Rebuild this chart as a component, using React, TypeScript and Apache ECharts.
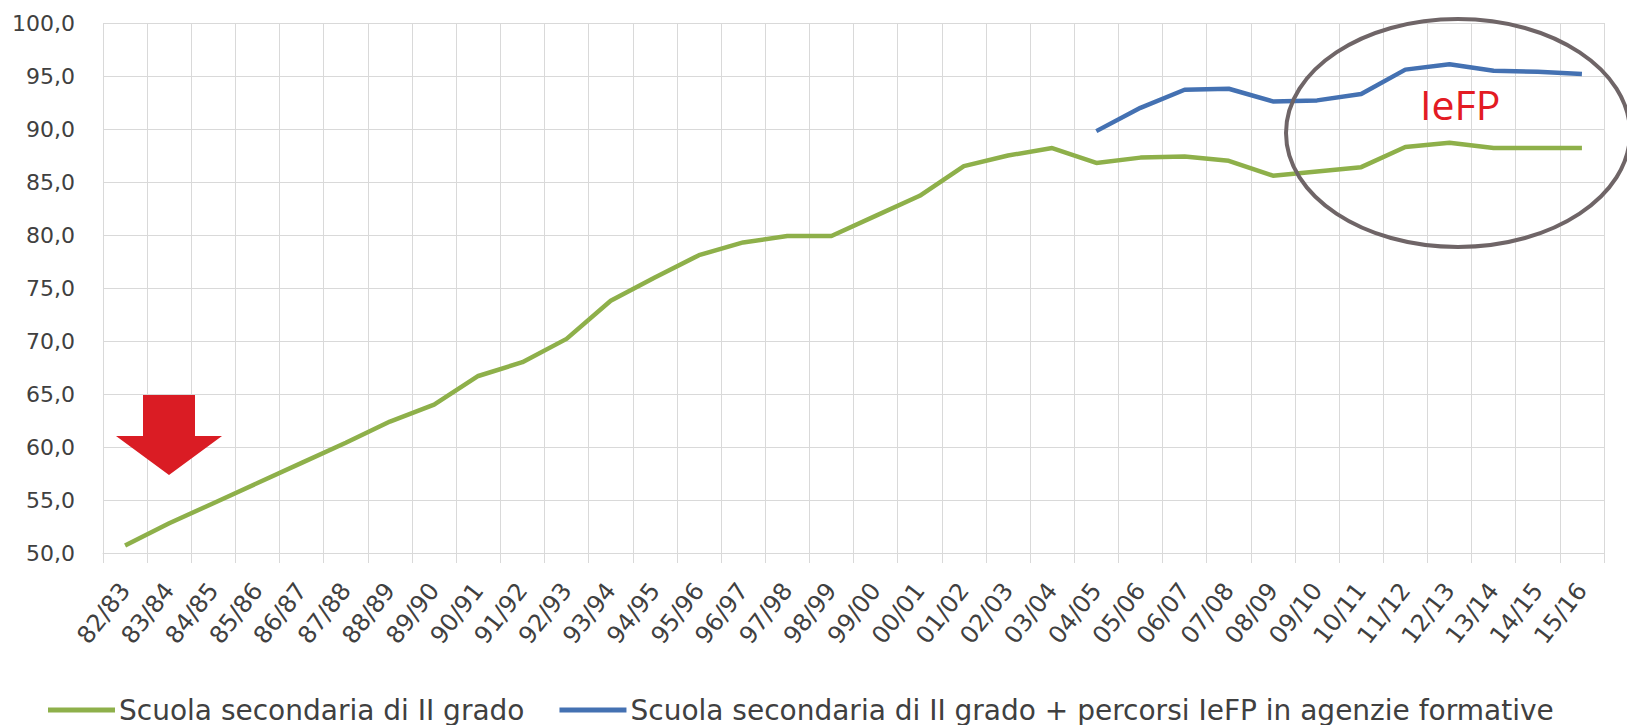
import React, { useEffect, useRef } from "react";
import * as echarts from "echarts";

const categories = [
  "82/83", "83/84", "84/85", "85/86", "86/87", "87/88", "88/89", "89/90", "90/91", "91/92",
  "92/93", "93/94", "94/95", "95/96", "96/97", "97/98", "98/99", "99/00", "00/01", "01/02",
  "02/03", "03/04", "04/05", "05/06", "06/07", "07/08", "08/09", "09/10", "10/11", "11/12",
  "12/13", "13/14", "14/15", "15/16",
];

const scuolaSecondaria = [
  50.7, 52.8, 54.7, 56.6, 58.5, 60.4, 62.4, 64.0, 66.7, 68.0,
  70.2, 73.8, 76.0, 78.1, 79.3, 79.9, 79.9, 81.8, 83.7, 86.5,
  87.5, 88.2, 86.8, 87.3, 87.4, 87.0, 85.6, 86.0, 86.4, 88.3,
  88.7, 88.2, 88.2, 88.2,
];

const conIeFP = [
  null, null, null, null, null, null, null, null, null, null,
  null, null, null, null, null, null, null, null, null, null,
  null, null, 89.8, 92.0, 93.7, 93.8, 92.6, 92.7, 93.3, 95.6,
  96.1, 95.5, 95.4, 95.2,
];

const seriesNames = [
  "Scuola secondaria di II grado",
  "Scuola secondaria di II grado + percorsi IeFP in agenzie formative",
];

const GREEN = "#8eb04a";
const BLUE = "#4471b2";
const GRID = "#d9d9d9";
const TEXT = "#404040";

export default function App() {
  const ref = useRef<HTMLDivElement>(null);

  useEffect(() => {
    if (!ref.current) return;
    const chart = echarts.init(ref.current, null, { renderer: "svg" });
    chart.setOption({
      animation: false,
      backgroundColor: "#ffffff",
      grid: { left: 103, right: 23, top: 23, bottom: 172, containLabel: false },
      legend: {
        left: 48,
        top: 696,
        padding: 0,
        itemGap: 35,
        itemWidth: 67,
        itemHeight: 5,
        icon: "rect",
        textStyle: {
          fontFamily: "DejaVu Sans",
          fontSize: 28,
          lineHeight: 28,
          color: TEXT,
          padding: [0, 0, 0, -1],
        },
        data: [
          { name: seriesNames[0], itemStyle: { color: GREEN } },
          { name: seriesNames[1], itemStyle: { color: BLUE } },
        ],
      },
      xAxis: {
        type: "category",
        data: categories,
        boundaryGap: true,
        axisLine: { show: true, lineStyle: { color: GRID, width: 1 } },
        axisTick: { show: true, length: 10, lineStyle: { color: GRID } },
        splitLine: { show: true, lineStyle: { color: GRID, width: 1 } },
        axisLabel: {
          interval: 0,
          rotate: 52,
          margin: 33,
          fontFamily: "DejaVu Sans",
          fontSize: 24,
          color: TEXT,
        },
      },
      yAxis: {
        type: "value",
        min: 50,
        max: 100,
        interval: 5,
        axisLine: { show: false },
        axisTick: { show: false },
        splitLine: { show: true, lineStyle: { color: GRID, width: 1 } },
        axisLabel: {
          margin: 28,
          fontFamily: "DejaVu Sans",
          fontSize: 22,
          color: TEXT,
          formatter: (v: number) => v.toFixed(1).replace(".", ","),
        },
      },
      series: [
        {
          name: seriesNames[0],
          type: "line",
          data: scuolaSecondaria,
          symbol: "none",
          lineStyle: { color: GREEN, width: 4.5 },
          itemStyle: { color: GREEN },
        },
        {
          name: seriesNames[1],
          type: "line",
          data: conIeFP,
          symbol: "none",
          connectNulls: false,
          lineStyle: { color: BLUE, width: 4.5 },
          itemStyle: { color: BLUE },
        },
      ],
      graphic: [
        {
          type: "polygon",
          shape: {
            points: [
              [143, 395], [195, 395], [195, 436], [222, 436],
              [169, 475], [116, 436], [143, 436],
            ],
          },
          style: { fill: "#da1c24" },
          z: 100,
        },
        {
          type: "ellipse",
          shape: { cx: 1458, cy: 133, rx: 172, ry: 114 },
          style: { fill: "none", stroke: "#6f6567", lineWidth: 4 },
          z: 100,
        },
        {
          type: "text",
          x: 1420,
          y: 104,
          style: {
            text: "IeFP",
            fill: "#e31b23",
            font: "41px 'Open Sans'",
            verticalAlign: "middle",
            align: "left",
          },
          z: 100,
        },
      ],
    });
    return () => chart.dispose();
  }, []);

  return (
    <div
      ref={ref}
      style={{ position: "fixed", left: 0, top: 0, width: 1627, height: 725, background: "#fff" }}
    />
  );
}
